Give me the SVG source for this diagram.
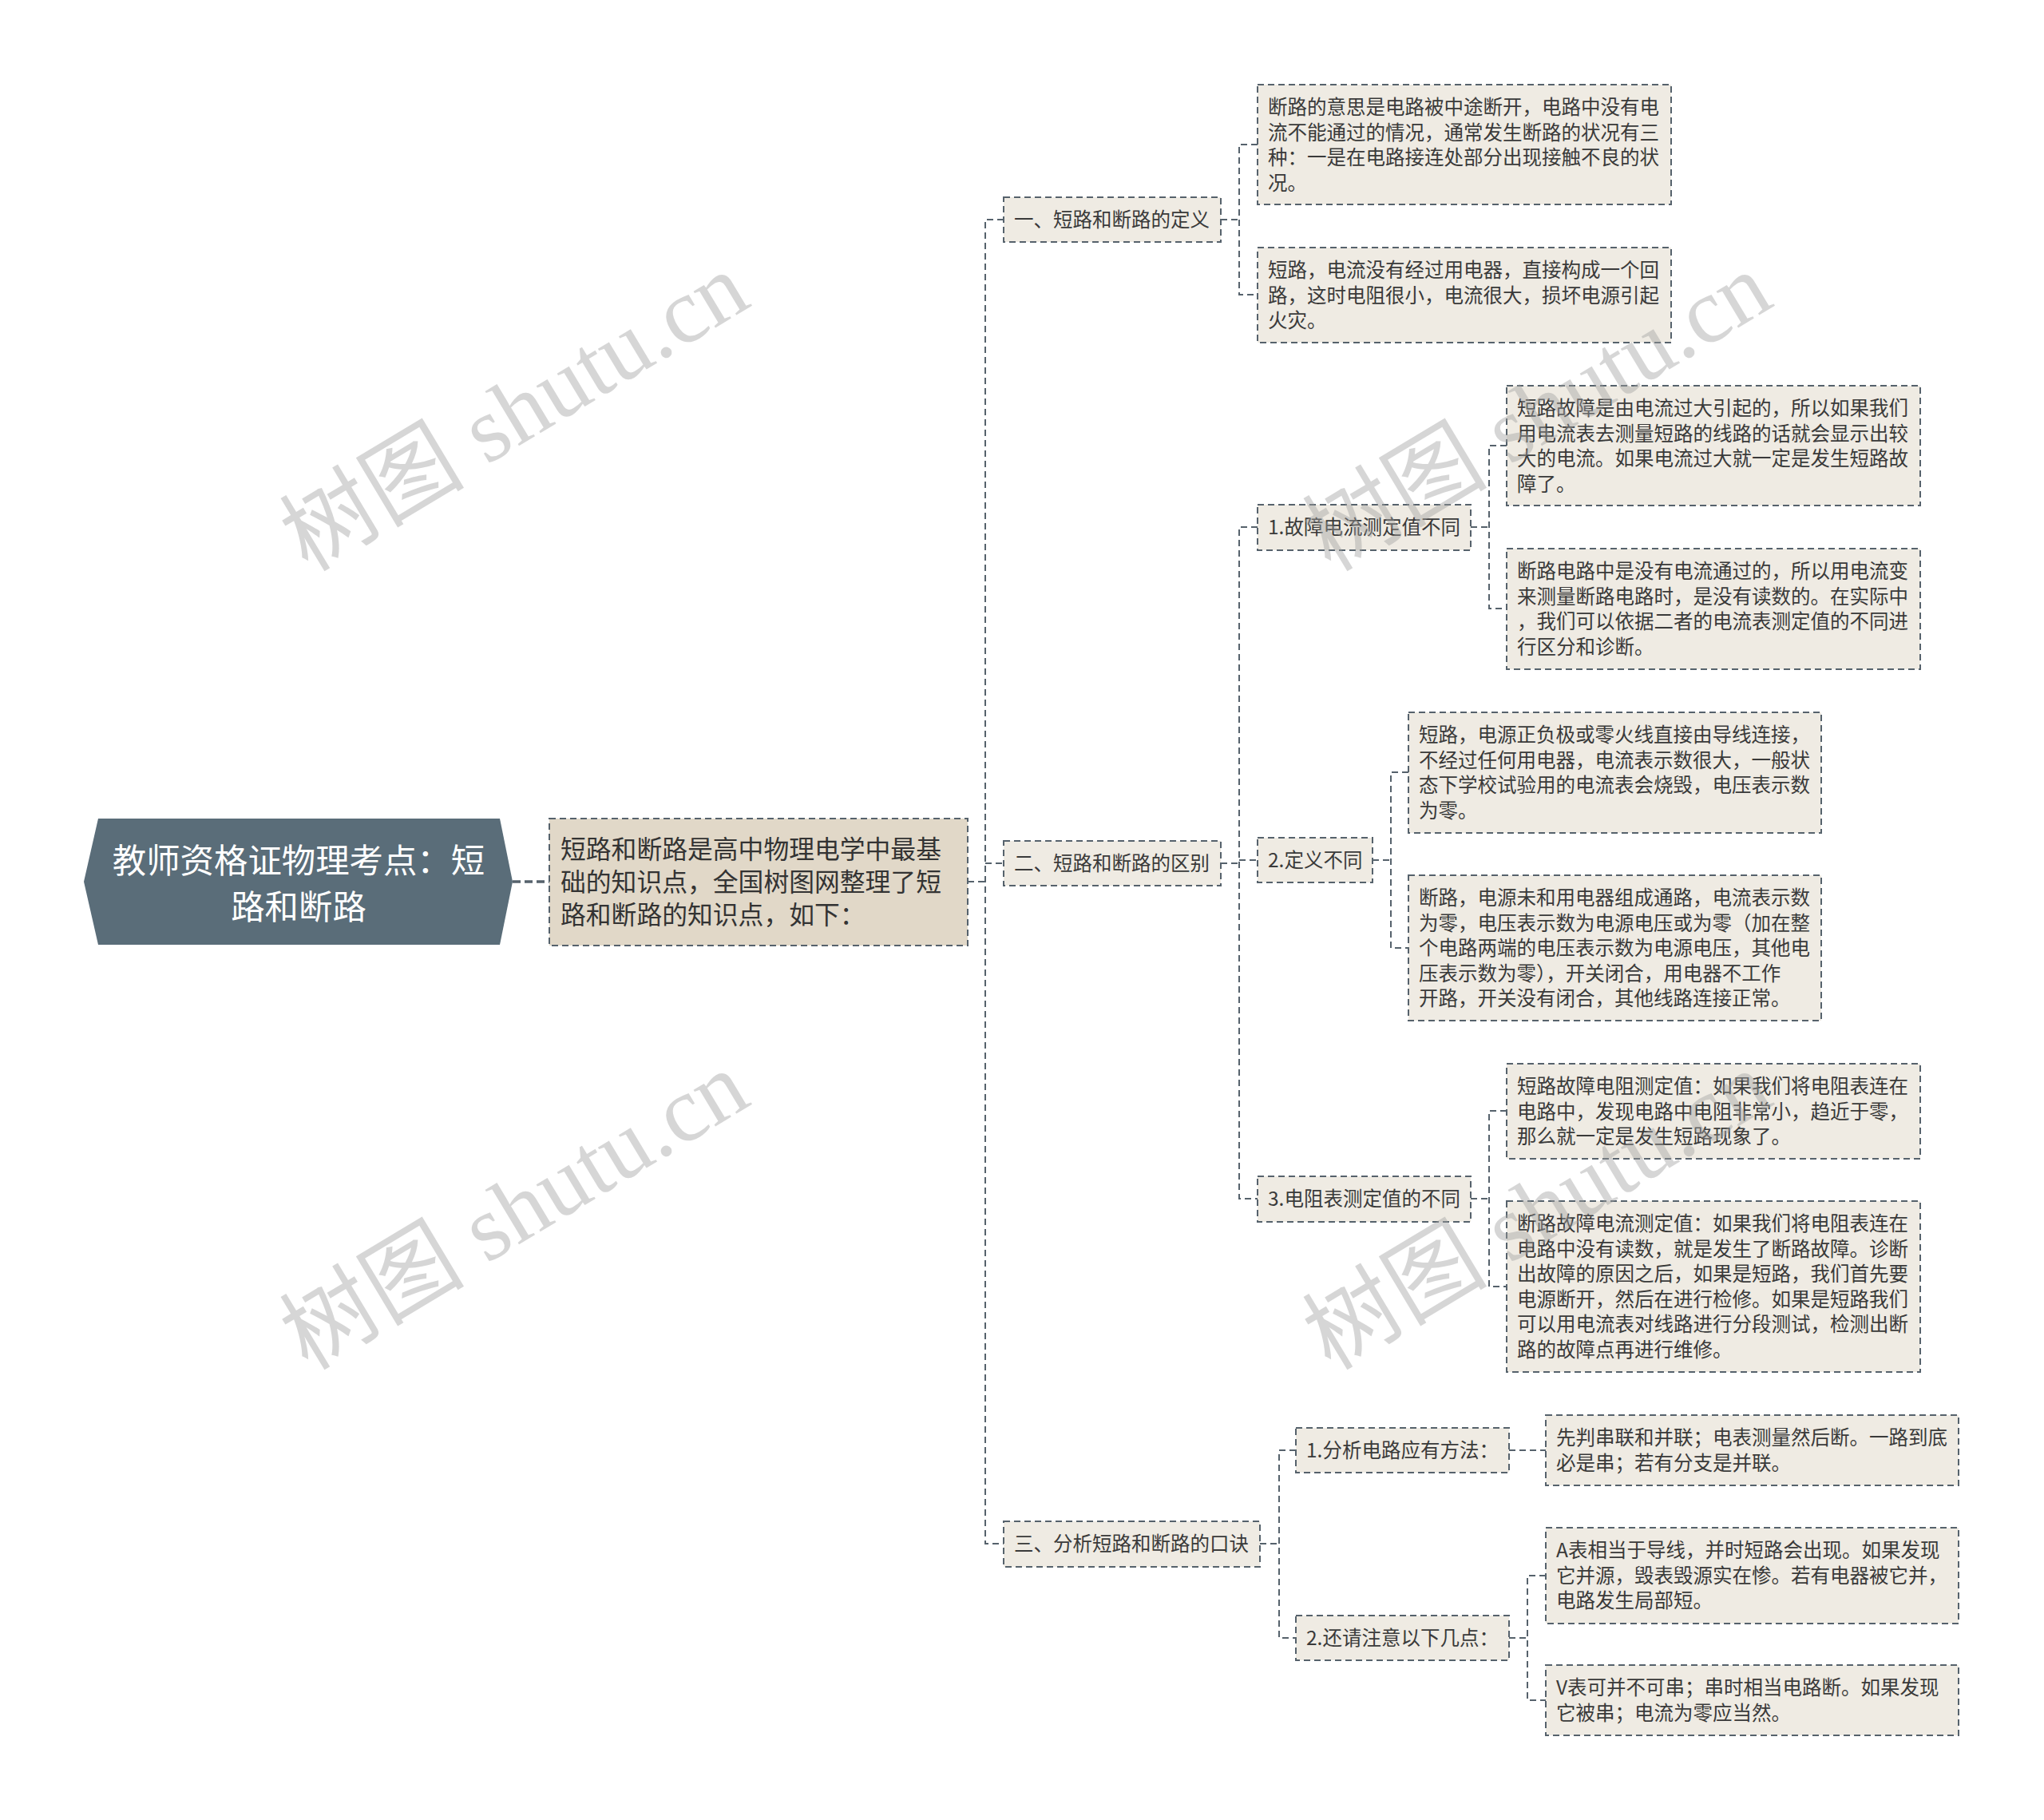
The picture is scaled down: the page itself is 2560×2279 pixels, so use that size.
<svg xmlns="http://www.w3.org/2000/svg" width="2560" height="2279" viewBox="0 0 2560 2279">
<style>
.bg{fill:#ffffff}
.root{fill:#5a6d79}
.roottxt{font-family:"Noto Sans CJK SC","Noto Sans",sans-serif;font-size:42.4px;fill:#ffffff;text-anchor:middle}
.intro{fill:#e1d8c8;stroke:#56626c;stroke-width:2;stroke-dasharray:8 5}
.box{fill:#efebe3;stroke:#56626c;stroke-width:2;stroke-dasharray:8 5}
.introtxt{font-family:"Noto Sans CJK SC","Noto Sans",sans-serif;font-size:31.8px;fill:#333333}
.txt{font-family:"Noto Sans CJK SC","Noto Sans",sans-serif;font-size:24.5px;fill:#3a3a3a}
.conn{fill:none;stroke:#56626c;stroke-width:2;stroke-dasharray:8 5}
.conn0{fill:none;stroke:#56626c;stroke-width:3.5;stroke-dasharray:10 5}
.wm{font-family:"Liberation Serif","Noto Sans CJK SC",serif;font-size:116px;fill:#a0a0a0;opacity:0.42;text-anchor:middle}
</style>
<rect class="bg" x="0" y="0" width="2560" height="2279"/>

<g id="connectors">
<path class="conn0" d="M642 1104 H688"/>
<path class="conn" d="M1212 1104 H1234"/>
<path class="conn" d="M1257 275 H1234 V1933 H1257"/>
<path class="conn" d="M1234 1081 H1257"/>
<path class="conn" d="M1529 275 H1552"/>
<path class="conn" d="M1575 181 H1552 V369 H1575"/>
<path class="conn" d="M1529 1081 H1552"/>
<path class="conn" d="M1575 660 H1552 V1501 H1575"/>
<path class="conn" d="M1552 1077 H1575"/>
<path class="conn" d="M1842 660 H1865"/>
<path class="conn" d="M1887 558 H1865 V762 H1887"/>
<path class="conn" d="M1719 1077 H1742"/>
<path class="conn" d="M1764 967 H1742 V1187 H1764"/>
<path class="conn" d="M1842 1501 H1865"/>
<path class="conn" d="M1887 1391 H1865 V1611 H1887"/>
<path class="conn" d="M1578 1933 H1602"/>
<path class="conn" d="M1623 1816 H1602 V2051 H1623"/>
<path class="conn" d="M1890 1816 H1936"/>
<path class="conn" d="M1890 2051 H1913"/>
<path class="conn" d="M1936 1973 H1913 V2129 H1936"/>
</g>

<g id="root">
<polygon class="root" points="105,1104 123,1025 626,1025 642,1104 626,1183 123,1183"/>
<text class="roottxt"><tspan x="374" y="1093">教师资格证物理考点：短</tspan><tspan x="374" y="1151">路和断路</tspan></text>
</g>

<g id="intro">
<rect class="intro" x="688" y="1025" width="524" height="159"/>
<text class="introtxt"><tspan x="702" y="1075">短路和断路是高中物理电学中最基</tspan><tspan x="702" y="1116">础的知识点，全国树图网整理了短</tspan><tspan x="702" y="1157">路和断路的知识点，如下：</tspan></text>
</g>

<g id="m1">
<rect class="box" x="1257" y="247" width="272" height="56"/>
<text class="txt" x="1270" y="284">一、短路和断路的定义</text>
</g>
<g id="m2">
<rect class="box" x="1257" y="1053" width="272" height="56"/>
<text class="txt" x="1270" y="1090">二、短路和断路的区别</text>
</g>
<g id="m3">
<rect class="box" x="1257" y="1905" width="321" height="57"/>
<text class="txt" x="1270" y="1942">三、分析短路和断路的口诀</text>
</g>

<g id="s1">
<rect class="box" x="1575" y="632" width="267" height="57"/>
<text class="txt" x="1588" y="669">1.故障电流测定值不同</text>
</g>
<g id="s2">
<rect class="box" x="1575" y="1049" width="144" height="56"/>
<text class="txt" x="1588" y="1086">2.定义不同</text>
</g>
<g id="s3">
<rect class="box" x="1575" y="1473" width="267" height="57"/>
<text class="txt" x="1588" y="1510">3.电阻表测定值的不同</text>
</g>
<g id="s4">
<rect class="box" x="1623" y="1788" width="267" height="56"/>
<text class="txt" x="1636" y="1825">1.分析电路应有方法：</text>
</g>
<g id="s5">
<rect class="box" x="1623" y="2023" width="267" height="56"/>
<text class="txt" x="1636" y="2060">2.还请注意以下几点：</text>
</g>

<g id="l1">
<rect class="box" x="1575" y="106" width="518" height="150"/>
<text class="txt"><tspan x="1588" y="143">断路的意思是电路被中途断开，电路中没有电</tspan><tspan x="1588" y="174.6">流不能通过的情况，通常发生断路的状况有三</tspan><tspan x="1588" y="206.2">种：一是在电路接连处部分出现接触不良的状</tspan><tspan x="1588" y="237.8">况。</tspan></text>
</g>
<g id="l2">
<rect class="box" x="1575" y="310" width="518" height="119"/>
<text class="txt"><tspan x="1588" y="347">短路，电流没有经过用电器，直接构成一个回</tspan><tspan x="1588" y="378.6">路，这时电阻很小，电流很大，损坏电源引起</tspan><tspan x="1588" y="410.2">火灾。</tspan></text>
</g>
<g id="l3">
<rect class="box" x="1887" y="483" width="518" height="150"/>
<text class="txt"><tspan x="1900" y="520">短路故障是由电流过大引起的，所以如果我们</tspan><tspan x="1900" y="551.6">用电流表去测量短路的线路的话就会显示出较</tspan><tspan x="1900" y="583.2">大的电流。如果电流过大就一定是发生短路故</tspan><tspan x="1900" y="614.8">障了。</tspan></text>
</g>
<g id="l4">
<rect class="box" x="1887" y="687" width="518" height="151"/>
<text class="txt"><tspan x="1900" y="724">断路电路中是没有电流通过的，所以用电流变</tspan><tspan x="1900" y="755.6">来测量断路电路时，是没有读数的。在实际中</tspan><tspan x="1900" y="787.2">，我们可以依据二者的电流表测定值的不同进</tspan><tspan x="1900" y="818.8">行区分和诊断。</tspan></text>
</g>
<g id="l5">
<rect class="box" x="1764" y="892" width="517" height="151"/>
<text class="txt"><tspan x="1777" y="929">短路，电源正负极或零火线直接由导线连接，</tspan><tspan x="1777" y="960.6">不经过任何用电器，电流表示数很大，一般状</tspan><tspan x="1777" y="992.2">态下学校试验用的电流表会烧毁，电压表示数</tspan><tspan x="1777" y="1023.8">为零。</tspan></text>
</g>
<g id="l6">
<rect class="box" x="1764" y="1096" width="517" height="182"/>
<text class="txt"><tspan x="1777" y="1133">断路，电源未和用电器组成通路，电流表示数</tspan><tspan x="1777" y="1164.6">为零，电压表示数为电源电压或为零（加在整</tspan><tspan x="1777" y="1196.2">个电路两端的电压表示数为电源电压，其他电</tspan><tspan x="1777" y="1227.8">压表示数为零），开关闭合，用电器不工作</tspan><tspan x="1777" y="1259.4">开路，开关没有闭合，其他线路连接正常。</tspan></text>
</g>
<g id="l7">
<rect class="box" x="1887" y="1332" width="518" height="119"/>
<text class="txt"><tspan x="1900" y="1369">短路故障电阻测定值：如果我们将电阻表连在</tspan><tspan x="1900" y="1400.6">电路中，发现电路中电阻非常小，趋近于零，</tspan><tspan x="1900" y="1432.2">那么就一定是发生短路现象了。</tspan></text>
</g>
<g id="l8">
<rect class="box" x="1887" y="1504" width="518" height="214"/>
<text class="txt"><tspan x="1900" y="1541">断路故障电流测定值：如果我们将电阻表连在</tspan><tspan x="1900" y="1572.6">电路中没有读数，就是发生了断路故障。诊断</tspan><tspan x="1900" y="1604.2">出故障的原因之后，如果是短路，我们首先要</tspan><tspan x="1900" y="1635.8">电源断开，然后在进行检修。如果是短路我们</tspan><tspan x="1900" y="1667.4">可以用电流表对线路进行分段测试，检测出断</tspan><tspan x="1900" y="1699">路的故障点再进行维修。</tspan></text>
</g>
<g id="l9">
<rect class="box" x="1936" y="1772" width="517" height="88"/>
<text class="txt"><tspan x="1949" y="1809">先判串联和并联；电表测量然后断。一路到底</tspan><tspan x="1949" y="1840.6">必是串；若有分支是并联。</tspan></text>
</g>
<g id="l10">
<rect class="box" x="1936" y="1913" width="517" height="120"/>
<text class="txt"><tspan x="1949" y="1950">A表相当于导线，并时短路会出现。如果发现</tspan><tspan x="1949" y="1981.6">它并源，毁表毁源实在惨。若有电器被它并，</tspan><tspan x="1949" y="2013.2">电路发生局部短。</tspan></text>
</g>
<g id="l11">
<rect class="box" x="1936" y="2085" width="517" height="88"/>
<text class="txt"><tspan x="1949" y="2122">V表可并不可串；串时相当电路断。如果发现</tspan><tspan x="1949" y="2153.6">它被串；电流为零应当然。</tspan></text>
</g>

<g id="watermarks">
<text class="wm" x="645" y="555" transform="rotate(-31 645 517)">树图 shutu.cn</text>
<text class="wm" x="645" y="1555" transform="rotate(-31 645 1517)">树图 shutu.cn</text>
<text class="wm" x="1926" y="555" transform="rotate(-31 1926 517)">树图 shutu.cn</text>
<text class="wm" x="1926" y="1555" transform="rotate(-31 1926 1517)">树图 shutu.cn</text>
</g>
</svg>
